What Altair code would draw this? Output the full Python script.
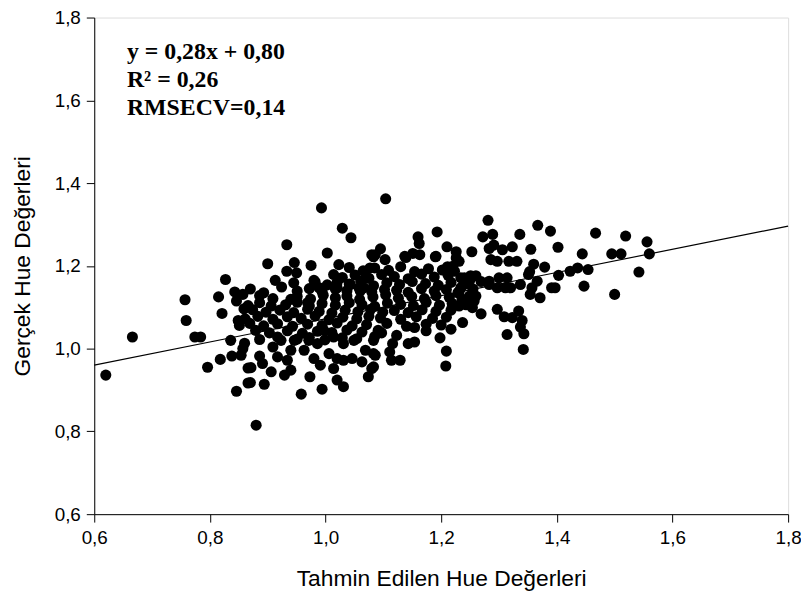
import altair as alt
import pandas as pd

# ---- individually read points (predicted, actual) ----
pts_x = [0.620, 0.666, 0.757, 0.759, 0.774, 0.784, 0.827, 0.815, 0.843, 0.846,
         0.821, 0.849, 0.851, 0.836, 0.860, 0.857, 0.818, 0.796, 0.838, 0.846,
         0.866, 0.866, 0.859, 0.880, 0.993, 1.029, 1.044, 0.933, 1.003, 0.900,
         0.946, 0.975, 1.023, 0.933, 0.950, 0.913, 0.945, 0.924, 0.980, 1.014,
         0.989, 0.870, 0.893, 0.857, 0.906, 0.940, 0.969, 1.069, 1.083, 1.020,
         1.043, 1.060, 0.958, 0.994, 1.031, 1.020, 0.973, 0.870, 0.894, 0.871,
         0.891, 0.886, 0.906, 0.929, 0.940, 0.854, 0.909, 0.923, 0.940, 0.946,
         0.934, 0.917, 0.980, 0.991, 1.006, 1.014, 1.020, 0.963, 0.971, 0.986,
         1.031, 1.046, 1.063, 1.074, 1.083, 1.083, 1.069, 0.997, 1.014, 1.031,
         1.049, 1.104, 1.160, 1.162, 1.193, 1.190, 1.210, 1.226, 1.095, 1.086,
         1.103, 1.139, 1.151, 1.211, 1.223, 1.208, 1.209, 1.198, 1.154, 1.237,
         1.217, 1.123, 1.116, 1.111, 1.114, 1.129, 1.143, 1.154, 1.086, 1.080,
         1.083, 1.091]
pts_y = [0.936, 1.028, 1.118, 1.068, 1.028, 1.028, 1.167, 1.125, 1.137, 1.115,
         1.085, 1.068, 1.056, 1.020, 1.013, 1.000, 0.974, 0.955, 0.982, 0.897,
         0.953, 0.917, 1.096, 0.815, 1.340, 1.291, 1.268, 1.251, 1.231, 1.205,
         1.208, 1.201, 1.203, 1.187, 1.183, 1.165, 1.159, 1.149, 1.165, 1.179,
         1.147, 1.144, 1.135, 1.131, 1.103, 1.119, 1.111, 1.187, 1.222, 1.147,
         1.155, 1.139, 0.890, 0.902, 0.908, 0.924, 0.932, 0.918, 0.914, 0.954,
         0.964, 0.982, 0.944, 0.936, 0.948, 0.984, 1.004, 1.020, 0.996, 1.020,
         0.972, 0.980, 0.976, 0.960, 0.988, 0.952, 0.976, 0.996, 1.020, 1.012,
         0.972, 0.976, 0.968, 0.932, 0.956, 0.988, 0.996, 1.044, 1.028, 1.012,
         1.020, 1.362, 1.270, 1.254, 1.282, 1.222, 1.246, 1.234, 1.241, 1.227,
         1.215, 1.220, 1.230, 1.198, 1.187, 0.958, 0.994, 1.026, 1.051, 1.063,
         1.047, 1.032, 1.012, 0.992, 0.972, 0.972, 1.012, 1.016, 0.984, 0.952,
         1.020, 1.044]

right_x = [1.281, 1.367, 1.389, 1.336, 1.272, 1.289, 1.402, 1.355, 1.253, 1.323,
           1.306, 1.283, 1.291, 1.286, 1.297, 1.317, 1.331, 1.360, 1.379, 1.353,
           1.403, 1.226, 1.231, 1.251, 1.249, 1.234, 1.229, 1.283, 1.300, 1.314,
           1.311, 1.297, 1.283, 1.320, 1.337, 1.351, 1.366, 1.357, 1.354, 1.371,
           1.391, 1.249, 1.257, 1.254, 1.269, 1.231, 1.297, 1.309, 1.323, 1.334,
           1.340, 1.337, 1.314, 1.343, 1.342, 1.467, 1.519, 1.556, 1.560, 1.495,
           1.511, 1.444, 1.423, 1.436, 1.454, 1.397, 1.447, 1.542, 1.500, 1.080,
           1.077, 1.071, 1.066, 1.137, 1.163, 1.191, 1.220, 1.240]
right_y = [1.310, 1.298, 1.284, 1.276, 1.270, 1.276, 1.245, 1.240, 1.234, 1.246,
           1.239, 1.242, 1.250, 1.215, 1.211, 1.211, 1.211, 1.204, 1.197, 1.186,
           1.177, 1.219, 1.211, 1.176, 1.163, 1.147, 1.135, 1.163, 1.171, 1.171,
           1.147, 1.147, 1.155, 1.147, 1.155, 1.179, 1.163, 1.147, 1.131, 1.123,
           1.147, 1.127, 1.115, 1.099, 1.084, 1.103, 1.095, 1.077, 1.075, 1.091,
           1.068, 1.052, 1.034, 1.036, 0.998, 1.279, 1.272, 1.258, 1.229, 1.229,
           1.229, 1.229, 1.187, 1.195, 1.191, 1.147, 1.151, 1.185, 1.131, 1.227,
           1.195, 1.171, 1.147, 1.223, 1.227, 1.223, 1.199, 1.171]

# ---- dense core of the cloud, read row by row ----
core_x = [
    [1.041, 1.065, 1.085, 1.109, 1.130, 1.154, 1.178, 1.202],
    [1.029, 1.051, 1.075, 1.097, 1.119, 1.143, 1.166, 1.188, 1.212, 1.234, 1.260],
    [0.982, 1.003, 1.020, 1.041, 1.061, 1.083, 1.106, 1.128, 1.150, 1.173, 1.195, 1.217, 1.243, 1.269],
    [0.951, 0.972, 0.994, 1.017, 1.037, 1.058, 1.080, 1.102, 1.123, 1.143, 1.166, 1.188, 1.209, 1.231, 1.255],
    [0.886, 0.909, 0.951, 0.974, 0.996, 1.017, 1.037, 1.059, 1.082, 1.104, 1.126, 1.149, 1.171, 1.191, 1.214, 1.236, 1.260],
    [0.866, 0.886, 0.931, 0.951, 0.972, 0.994, 1.017, 1.041, 1.063, 1.085, 1.107, 1.130, 1.152, 1.174, 1.197, 1.219, 1.243],
    [0.874, 0.897, 0.921, 0.945, 0.969, 0.989, 1.011, 1.034, 1.056, 1.078, 1.099, 1.119, 1.143, 1.167, 1.191, 1.217],
    [0.861, 0.883, 0.909, 0.934, 0.958, 0.982, 1.006, 1.030, 1.054, 1.075, 1.095, 1.130, 1.157, 1.185, 1.209],
    [0.869, 0.893, 0.917, 0.943, 0.969, 0.994, 1.020, 1.046, 1.071, 1.106, 1.140, 1.174, 1.200],
    [0.879, 0.903, 0.934, 0.960, 0.986, 1.011, 1.037, 1.063, 1.097, 1.174],
    [0.886, 0.917, 0.951, 0.972, 0.999, 1.029, 1.054, 1.085],
]
core_y = [
    [1.196, 1.188, 1.195, 1.189, 1.198, 1.186, 1.193, 1.190],
    [1.172, 1.178, 1.170, 1.179, 1.174, 1.169, 1.180, 1.173, 1.177, 1.171, 1.176],
    [1.161, 1.154, 1.160, 1.156, 1.163, 1.152, 1.159, 1.155, 1.162, 1.157, 1.153, 1.160, 1.156, 1.162],
    [1.139, 1.145, 1.138, 1.144, 1.140, 1.146, 1.137, 1.143, 1.141, 1.136, 1.145, 1.139, 1.143, 1.138, 1.144],
    [1.128, 1.121, 1.126, 1.120, 1.129, 1.123, 1.127, 1.119, 1.125, 1.130, 1.122, 1.126, 1.121, 1.128, 1.124, 1.120, 1.127],
    [1.104, 1.111, 1.106, 1.112, 1.103, 1.109, 1.105, 1.111, 1.106, 1.102, 1.110, 1.107, 1.104, 1.112, 1.105, 1.109, 1.106],
    [1.094, 1.088, 1.093, 1.087, 1.095, 1.090, 1.086, 1.093, 1.089, 1.095, 1.088, 1.092, 1.087, 1.094, 1.090, 1.093],
    [1.072, 1.078, 1.071, 1.077, 1.073, 1.079, 1.070, 1.076, 1.072, 1.078, 1.074, 1.071, 1.077, 1.073, 1.076],
    [1.061, 1.055, 1.060, 1.054, 1.059, 1.056, 1.062, 1.055, 1.058, 1.061, 1.054, 1.059, 1.057],
    [1.044, 1.038, 1.043, 1.037, 1.042, 1.039, 1.045, 1.040, 1.038, 1.043],
    [1.022, 1.028, 1.023, 1.027, 1.021, 1.026, 1.024, 1.029],
]

# regression line end points (as drawn)
line_x = [0.6, 1.8]
line_y = [0.960, 1.296]

annotations = ["y = 0,28x + 0,80", "R² = 0,26", "RMSECV=0,14"]
ticks = [0.6, 0.8, 1.0, 1.2, 1.4, 1.6, 1.8]

xs = pts_x + right_x + [v for r in core_x for v in r]
ys = pts_y + right_y + [v for r in core_y for v in r]
df = pd.DataFrame({"x": xs, "y": ys})
line_df = pd.DataFrame({"x": line_x, "y": line_y})

label_expr = "replace(format(datum.value, '.1f'), '.', ',')"
xscale = alt.Scale(domain=[0.6, 1.8], nice=False, zero=False)
yscale = alt.Scale(domain=[0.6, 1.8], nice=False, zero=False)

common = dict(values=ticks, labelExpr=label_expr, grid=False, domainColor="black",
              tickColor="black", tickSize=8, labelFlush=False, labelOverlap=False,
              labelFont="Liberation Sans", labelFontSize=19, labelColor="black",
              titleFont="Liberation Sans", titleFontSize=23, titleFontWeight="normal",
              titleColor="black")
x_axis = alt.Axis(title="Tahmin Edilen Hue Değerleri", labelPadding=7, titlePadding=20, **common)
y_axis = alt.Axis(title="Gerçek Hue Değerleri", labelPadding=6, titlePadding=20, **common)

points = alt.Chart(df).mark_circle(size=125, color="black", opacity=1).encode(
    x=alt.X("x:Q", scale=xscale, axis=x_axis),
    y=alt.Y("y:Q", scale=yscale, axis=y_axis),
)
line = alt.Chart(line_df).mark_line(color="black", strokeWidth=1.2).encode(
    x=alt.X("x:Q", scale=xscale, axis=x_axis),
    y=alt.Y("y:Q", scale=yscale, axis=y_axis),
)

text_layers = []
for i, t in enumerate(annotations):
    text_layers.append(
        alt.Chart(pd.DataFrame({"t": [t]})).mark_text(
            align="left", baseline="middle", font="Liberation Serif", fontWeight="bold",
            fontSize=24, color="black"
        ).encode(x=alt.value(33), y=alt.value(35 + 28 * i), text="t:N")
    )

chart = alt.layer(line, points, *text_layers).properties(
    width=700, height=501,
    autosize=alt.AutoSizeParams(type="none"),
    padding={"left": 87, "top": 7, "right": 13, "bottom": 88},
).configure_view(stroke="black", strokeWidth=1).configure(background="white")

chart.save("out.html", embed_options={"renderer": "svg", "actions": False})
